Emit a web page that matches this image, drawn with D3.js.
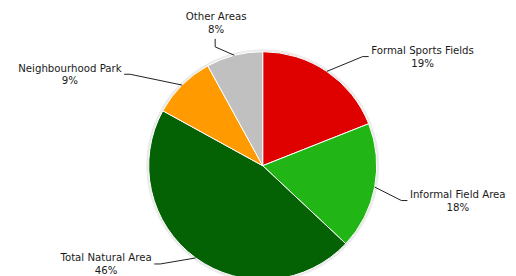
<!DOCTYPE html>
<html>
<head>
<meta charset="utf-8">
<script src="https://cdn.jsdelivr.net/npm/d3@7"></script>
<style>
  html, body { margin: 0; padding: 0; background: #fff; }
  svg { display: block; }
  text { font-family: "DejaVu Sans", Verdana, sans-serif; font-size: 10.2px; fill: #1a1a1a; }
</style>
</head>
<body>
<svg id="chart" width="516" height="276"></svg>
<script>
// data
var categories = ["Formal Sports Fields", "Informal Field Area", "Total Natural Area", "Neighbourhood Park", "Other Areas"];
var shares = [19, 18, 46, 9, 8];
var colours = ["#df0000", "#21b515", "#046204", "#ff9b00", "#c0c0c0"];
// label placement tweaks (angle shift in degrees, extra radius)
var labelShift = [[8.3, 34], [3.3, 29], [10.2, 28], [-10.4, 47], [-7.4, 14]];

var width = 516, height = 276;
var cx = 262.7, cy = 165.7, r = 114;
var svg = d3.select("#chart");

var pie = d3.pie().sort(null).value(function (d) { return d; });
var arcs = pie(shares);
var arc = d3.arc().innerRadius(0).outerRadius(r);

function polar(a, R) {
	return [cx + R * Math.sin(a), cy - R * Math.cos(a)];
}

var g = svg.append("g").attr("transform", "translate(" + cx + "," + cy + ")");
// soft shadow ring
g.append("circle").attr("r", r + 1).attr("fill", "none").attr("stroke", "#000").attr("stroke-opacity", 0.08).attr("stroke-width", 3);
g.selectAll("path.slice").data(arcs).enter().append("path")
	.attr("class", "slice")
	.attr("d", arc)
	.attr("fill", function (d, i) { return colours[i]; })
	.attr("stroke", "#fff")
	.attr("stroke-width", 1)
	.attr("stroke-linejoin", "round");

var lineGap = 12.8;
var labels = svg.append("g");
arcs.forEach(function (d, i) {
	var mid = (d.startAngle + d.endAngle) / 2;
	var edge = polar(mid, r);
	var elbow = polar(mid + labelShift[i][0] * Math.PI / 180, r + labelShift[i][1]);
	var s = Math.sin(mid);
	var side = s > 0.3 ? "right" : (s < -0.3 ? "left" : "top");
	var lab = labels.append("g");
	var t = lab.append("text").attr("text-anchor", "middle");
	var l1 = t.append("tspan").text(categories[i]);
	var l2 = t.append("tspan").text(d3.format(".0f")(shares[i]) + "%");
	var w = Math.max(l1.node().getComputedTextLength(), l2.node().getComputedTextLength());
	var pts, tx, ty;
	if (side === "top") {
		var up = [elbow[0], elbow[1] - 8];
		pts = [edge, elbow, up];
		tx = elbow[0] + 1;
		ty = up[1] - 10 - lineGap / 2;
	} else {
		var dir = side === "right" ? 1 : -1;
		var end = [elbow[0] + dir * 6, elbow[1]];
		pts = [edge, elbow, end];
		tx = end[0] + dir * (2.5 + w / 2);
		ty = elbow[1];
	}
	l1.attr("x", tx).attr("y", ty - lineGap / 2).attr("dy", "0.36em");
	l2.attr("x", tx).attr("y", ty + lineGap / 2).attr("dy", "0.36em");
	lab.insert("path", "text")
		.attr("d", d3.line()(pts))
		.attr("fill", "none")
		.attr("stroke", "#222")
		.attr("stroke-width", 1);
});
</script>
</body>
</html>
